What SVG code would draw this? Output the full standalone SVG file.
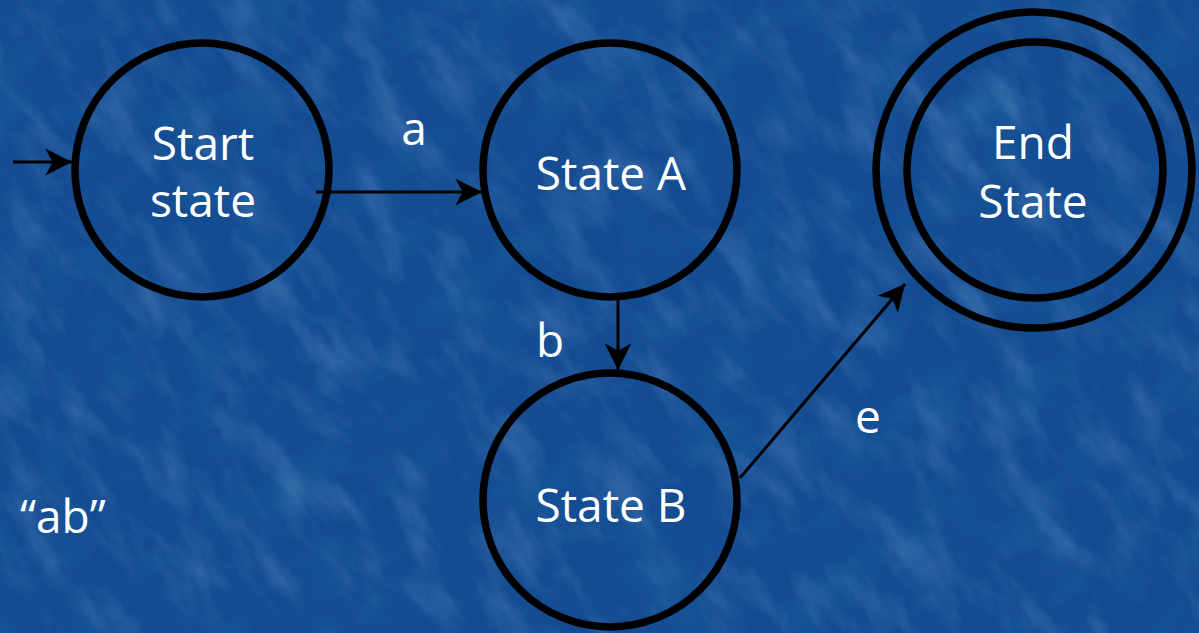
<svg xmlns="http://www.w3.org/2000/svg" width="1199" height="633" viewBox="0 0 1199 633">
  <defs>
    <filter id="grain" filterUnits="userSpaceOnUse" x="-500" y="-600" width="2200" height="1900">
      <feTurbulence type="fractalNoise" baseFrequency="0.03 0.012" numOctaves="4" seed="7" result="n"/>
      <feColorMatrix in="n" type="matrix" values="0 0 0 0 0.5  0 0 0 0 0.7  0 0 0 0 1  2 0 0 0 -0.95"/>
    </filter>
    <filter id="dark" filterUnits="userSpaceOnUse" x="-500" y="-600" width="2200" height="1900">
      <feTurbulence type="fractalNoise" baseFrequency="0.015 0.02" numOctaves="3" seed="3" result="n"/>
      <feColorMatrix in="n" type="matrix" values="0 0 0 0 0.02  0 0 0 0 0.18  0 0 0 0 0.4  -2 0 0 0 1.05"/>
    </filter>
    <marker id="head" markerUnits="userSpaceOnUse" markerWidth="30" markerHeight="30" viewBox="-26 -14 28 28" refX="0" refY="0" orient="auto">
      <path d="M0,0 L-25,-12.5 L-18,0 L-25,12.5 Z" fill="#000"/>
    </marker>
    <style>
      .ring { fill: none; stroke: #000; stroke-width: 7.5; }
      .label { font-family: "Open Sans", "Noto Sans", "DejaVu Sans", sans-serif; font-size: 46px; fill: #fff; text-anchor: middle; }
      .edge { fill: none; stroke: #000; stroke-width: 3; marker-end: url(#head); }
    </style>
  </defs>

  <!-- textured blue backdrop -->
  <rect width="1199" height="633" fill="#144c92"/>
  <g transform="rotate(-35 600 316)" opacity="0.3">
    <rect x="-400" y="-500" width="2000" height="1700" filter="url(#dark)"/>
  </g>
  <g transform="rotate(-35 600 316)" opacity="0.22">
    <rect x="-400" y="-500" width="2000" height="1700" filter="url(#grain)"/>
  </g>

  <g id="connectors">
    <line class="edge" x1="13" y1="162" x2="72" y2="162"/>
    <line class="edge" x1="316" y1="192" x2="482" y2="192"/>
    <line class="edge" x1="618" y1="300" x2="618" y2="370"/>
    <line class="edge" x1="740" y1="478" x2="905" y2="284"/>
  </g>

  <g id="start">
    <circle class="ring" cx="202" cy="170" r="127"/>
    <text class="label" x="203" y="160">Start</text>
    <text class="label" x="203" y="217">state</text>
  </g>

  <g id="stateA">
    <circle class="ring" cx="610" cy="170" r="127"/>
    <text class="label" x="611" y="190">State A</text>
  </g>

  <g id="stateB">
    <circle class="ring" cx="610" cy="500" r="127"/>
    <text class="label" x="611" y="522">State B</text>
  </g>

  <g id="end">
    <circle class="ring" cx="1034" cy="170" r="158"/>
    <circle class="ring" cx="1035" cy="170" r="128"/>
    <text class="label" x="1033" y="159">End</text>
    <text class="label" x="1033" y="218">State</text>
  </g>

  <g id="edge-labels">
    <text class="label" x="414" y="145">a</text>
    <text class="label" x="550" y="357">b</text>
    <text class="label" x="868" y="433">e</text>
  </g>

  <text class="label" x="20" y="533" style="text-anchor:start">“ab”</text>
</svg>
